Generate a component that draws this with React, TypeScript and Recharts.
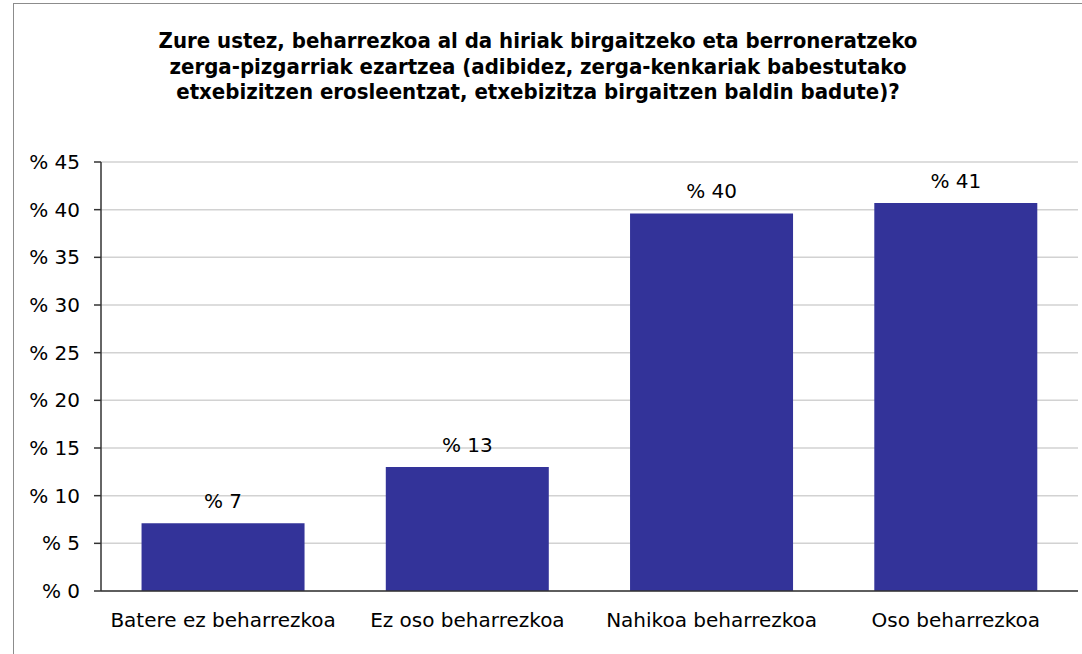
import { Bar, BarChart, CartesianGrid, LabelList, XAxis, YAxis } from "recharts"

const categories = ["Batere ez beharrezkoa", "Ez oso beharrezkoa", "Nahikoa beharrezkoa", "Oso beharrezkoa"]
const values = [7.1, 13.0, 39.6, 40.7]
const valueLabels = ["% 7", "% 13", "% 40", "% 41"]
const yTicks = [0, 5, 10, 15, 20, 25, 30, 35, 40, 45]
const boundaryTicks = [0, 1, 2, 3, 4]

const titleLines = [
    "Zure ustez, beharrezkoa al da hiriak birgaitzeko eta berroneratzeko",
    "zerga-pizgarriak ezartzea (adibidez, zerga-kenkariak babestutako",
    "etxebizitzen erosleentzat, etxebizitza birgaitzen baldin badute)?",
]

const data = categories.map((name, i) => ({ name, value: values[i], label: valueLabels[i] }))

const font = "'DejaVu Sans', Verdana, sans-serif"

export default function App() {
    return (
        <div style={{ position: "absolute", left: 0, top: 0, width: 1082, height: 654, background: "#fff", overflow: "hidden" }}>
            <div
                style={{
                    position: "absolute",
                    left: 13,
                    top: 3,
                    width: 1100,
                    height: 700,
                    border: "1px solid #8c8c8c",
                }}
            />
            <div
                style={{
                    position: "absolute",
                    left: 0,
                    top: 28,
                    width: 1076,
                    textAlign: "center",
                    fontFamily: "'DejaVu Sans Condensed', 'DejaVu Sans', sans-serif",
                    fontWeight: "bold",
                    fontSize: 22,
                    lineHeight: "25.5px",
                    color: "#000",
                }}
            >
                {titleLines.map((t) => (
                    <div key={t}>{t}</div>
                ))}
            </div>
            <div style={{ position: "absolute", left: 0, top: 0 }}>
                <BarChart
                    width={1082}
                    height={654}
                    data={data}
                    margin={{ top: 162, right: 4, bottom: 0, left: 0 }}
                    barCategoryGap="16.6%"
                >
                    <CartesianGrid vertical={false} stroke="#d2d2d2" strokeWidth={1.5} />
                    <XAxis
                        dataKey="name"
                        height={63}
                        axisLine={{ stroke: "#333", strokeWidth: 1.5 }}
                        tickLine={false}
                        tickSize={0}
                        tickMargin={22}
                        tick={{ fontSize: 20, fill: "#000", fontFamily: font }}
                        interval={0}
                    />
                    <XAxis
                        xAxisId="edges"
                        type="number"
                        domain={[0, 4]}
                        ticks={boundaryTicks}
                        height={0}
                        axisLine={false}
                        tick={false}
                        tickLine={{ stroke: "#333", strokeWidth: 1.5 }}
                        tickSize={6}
                        orientation="bottom"
                    />
                    <YAxis
                        width={101}
                        domain={[0, 45]}
                        ticks={yTicks}
                        interval={0}
                        axisLine={{ stroke: "#333", strokeWidth: 1.5 }}
                        tickLine={{ stroke: "#333", strokeWidth: 1.5 }}
                        tickSize={7}
                        tickMargin={14}
                        tickFormatter={(v: number) => `% ${v}`}
                        tick={{ fontSize: 20, fill: "#000", fontFamily: font }}
                    />
                    <Bar dataKey="value" fill="#333399" isAnimationActive={false}>
                        <LabelList
                            dataKey="label"
                            position="top"
                            offset={15}
                            style={{ fontSize: 20, fill: "#000", fontFamily: font }}
                        />
                    </Bar>
                </BarChart>
            </div>
        </div>
    )
}
